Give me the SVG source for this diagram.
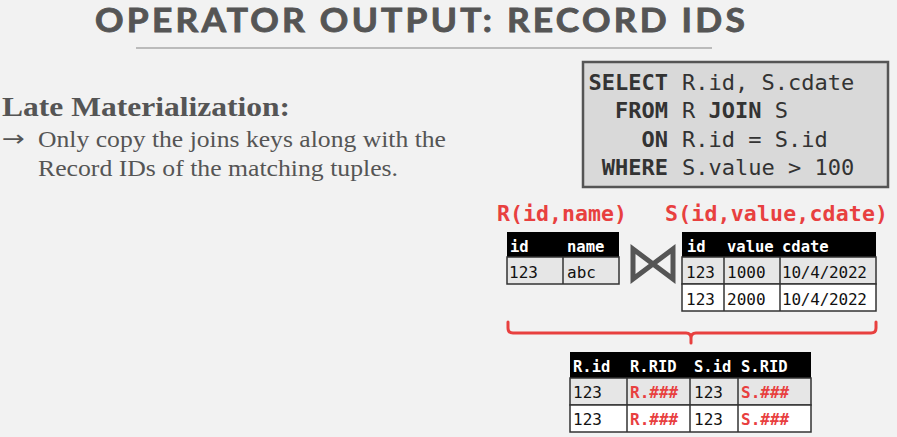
<svg xmlns="http://www.w3.org/2000/svg" width="897" height="437" viewBox="0 0 897 437">
<style>
.title{font-family:Lato,"Open Sans",sans-serif;font-weight:bold;font-size:33px;letter-spacing:3px;fill:#555;stroke:#555;stroke-width:0.9}
.serif{font-family:"Liberation Serif",serif;fill:#555}
.mono{font-family:"DejaVu Sans Mono","Liberation Mono",monospace}
.sql{font-size:22px;fill:#333}
.kw{font-weight:bold}
.lbl{font-size:21.5px;font-weight:bold;fill:#e8403f}
.th{font-size:15.5px;font-weight:bold;fill:#fff}
.td{font-size:16px;fill:#111}
.red{fill:#e8403f;font-weight:bold}
.hdr{fill:#000}
.r1{fill:#e6e6e6;stroke:#333;stroke-width:1.5}
.r2{fill:#fff;stroke:#333;stroke-width:1.5}
.grid{stroke:#333;stroke-width:1.5;fill:none}
</style>
<rect width="897" height="437" fill="#f2f2f2"/>
<g id="title">
<text class="title" x="95" y="32" textLength="653" lengthAdjust="spacingAndGlyphs">OPERATOR OUTPUT: RECORD IDS</text>
<line x1="136" y1="48" x2="712" y2="48" stroke="#bbb" stroke-width="2"/>
</g>
<g id="description">
<text class="serif" x="2" y="116" font-size="27" font-weight="bold" textLength="288" lengthAdjust="spacingAndGlyphs">Late Materialization:</text>
<text x="2" y="146" font-size="22" fill="#555" font-family="DejaVu Sans,sans-serif" textLength="23" lengthAdjust="spacingAndGlyphs">→</text>
<text class="serif" x="38" y="147" font-size="23" textLength="408" lengthAdjust="spacingAndGlyphs">Only copy the joins keys along with the</text>
<text class="serif" x="38" y="176" font-size="23" textLength="360" lengthAdjust="spacingAndGlyphs">Record IDs of the matching tuples.</text>
</g>
<g id="sql-query">
<rect x="583" y="62" width="305" height="125" fill="#d9d9d9" stroke="#555" stroke-width="2.5"/>
<g class="mono sql">
<text class="kw" x="668" y="90" text-anchor="end">SELECT</text>
<text x="682" y="90">R.id, S.cdate</text>
<text class="kw" x="668" y="118" text-anchor="end">FROM</text>
<text x="682" y="118">R <tspan class="kw">JOIN</tspan> S</text>
<text class="kw" x="668" y="147" text-anchor="end">ON</text>
<text x="682" y="147">R.id = S.id</text>
<text class="kw" x="668" y="175" text-anchor="end">WHERE</text>
<text x="682" y="175">S.value &gt; 100</text>
</g>
</g>
<g id="label-R"><text class="mono lbl" x="497" y="221" textLength="130">R(id,name)</text></g>
<g id="label-S"><text class="mono lbl" x="665" y="221" textLength="223">S(id,value,cdate)</text></g>
<g id="table-R">
<rect class="hdr" x="507" y="232" width="112" height="25"/>
<rect class="r1" x="507" y="257" width="112" height="27"/>
<line class="grid" x1="563" y1="257" x2="563" y2="284"/>
<g class="mono">
<text class="th" x="510" y="252">id</text>
<text class="th" x="567" y="252">name</text>
<text class="td" x="509" y="278">123</text>
<text class="td" x="567" y="278">abc</text>
</g>
</g>
<g id="join-symbol">
<path d="M633,249 L633,279 L673,249 L673,279 Z" fill="none" stroke="#555" stroke-width="5" stroke-linejoin="miter"/>
</g>
<g id="table-S">
<rect class="hdr" x="682" y="232" width="194" height="25"/>
<rect class="r1" x="682" y="257" width="194" height="27"/>
<rect class="r2" x="682" y="284" width="194" height="27"/>
<line class="grid" x1="724" y1="257" x2="724" y2="311"/>
<line class="grid" x1="780" y1="257" x2="780" y2="311"/>
<g class="mono">
<text class="th" x="687" y="252">id</text>
<text class="th" x="727" y="252">value</text>
<text class="th" x="782" y="252">cdate</text>
<text class="td" x="686" y="278">123</text>
<text class="td" x="727" y="278">1000</text>
<text class="td" x="782" y="278" textLength="85">10/4/2022</text>
<text class="td" x="686" y="305">123</text>
<text class="td" x="727" y="305">2000</text>
<text class="td" x="782" y="305" textLength="85">10/4/2022</text>
</g>
</g>
<g id="connectors">
<path d="M508,322 V328 Q508,333 513,333 H686 Q691,333 691,338 V343 M691,338 Q691,333 696,333 H871 Q876,333 876,328 V322" fill="none" stroke="#e8403f" stroke-width="3" stroke-linecap="round"/>
</g>
<g id="table-result">
<rect class="hdr" x="570" y="352" width="241" height="26"/>
<rect class="r1" x="570" y="378" width="241" height="27"/>
<rect class="r2" x="570" y="405" width="241" height="27"/>
<line class="grid" x1="627" y1="378" x2="627" y2="432"/>
<line class="grid" x1="690" y1="378" x2="690" y2="432"/>
<line class="grid" x1="738" y1="378" x2="738" y2="432"/>
<g class="mono">
<text class="th" x="573" y="372">R.id</text>
<text class="th" x="630" y="372">R.RID</text>
<text class="th" x="694" y="372">S.id</text>
<text class="th" x="741" y="372">S.RID</text>
<text class="td" x="573" y="398">123</text>
<text class="td red" x="630" y="398">R.###</text>
<text class="td" x="694" y="398">123</text>
<text class="td red" x="741" y="398">S.###</text>
<text class="td" x="573" y="425">123</text>
<text class="td red" x="630" y="425">R.###</text>
<text class="td" x="694" y="425">123</text>
<text class="td red" x="741" y="425">S.###</text>
</g>
</g>
</svg>
